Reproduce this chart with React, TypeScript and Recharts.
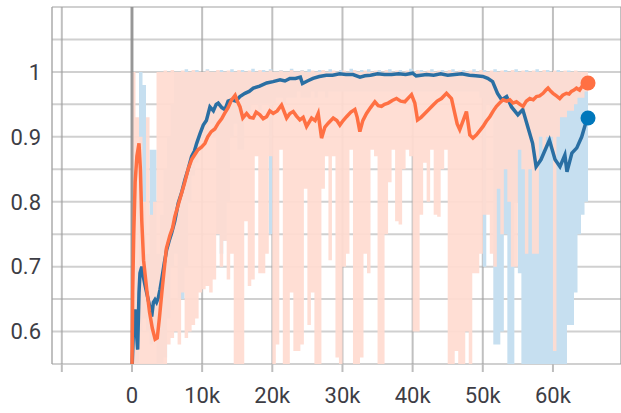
import React from 'react';
import { ComposedChart, Line, Area, XAxis, YAxis, CartesianGrid, ReferenceLine, ReferenceDot } from 'recharts';

const X_TICKS = [-10000, 0, 10000, 20000, 30000, 40000, 50000, 60000];
const X_TICK_LABELS = ['', '0', '10k', '20k', '30k', '40k', '50k', '60k'];
const Y_TICKS = [0.55, 0.6, 0.65, 0.7, 0.75, 0.8, 0.85, 0.9, 0.95, 1.0, 1.05, 1.1];
const Y_TICK_LABELS = ['', '0.6', '', '0.7', '', '0.8', '', '0.9', '', '1', '', ''];

// raw (unsmoothed) signal, summarised per 500-step bin as [low, high]
const RAW_STEPS = [
  0, 500, 1000, 1500, 2000, 2500, 3000, 3500, 4000, 4500,
  5000, 5500, 6000, 6500, 7000, 7500, 8000, 8500, 9000, 9500,
  10000, 10500, 11000, 11500, 12000, 12500, 13000, 13500, 14000, 14500,
  15000, 15500, 16000, 16500, 17000, 17500, 18000, 18500, 19000, 19500,
  20000, 20500, 21000, 21500, 22000, 22500, 23000, 23500, 24000, 24500,
  25000, 25500, 26000, 26500, 27000, 27500, 28000, 28500, 29000, 29500,
  30000, 30500, 31000, 31500, 32000, 32500, 33000, 33500, 34000, 34500,
  35000, 35500, 36000, 36500, 37000, 37500, 38000, 38500, 39000, 39500,
  40000, 40500, 41000, 41500, 42000, 42500, 43000, 43500, 44000, 44500,
  45000, 45500, 46000, 46500, 47000, 47500, 48000, 48500, 49000, 49500,
  50000, 50500, 51000, 51500, 52000, 52500, 53000, 53500, 54000, 54500,
  55000, 55500, 56000, 56500, 57000, 57500, 58000, 58500, 59000, 59500,
  60000, 60500, 61000, 61500, 62000, 62500, 63000, 63500, 64000, 64500,
  65000,
];

const ORANGE_RAW_LO = [
  0.55, 0.55, 0.55, 0.55, 0.55, 0.55, 0.55, 0.55, 0.55, 0.55,
  0.58, 0.59, 0.6, 0.58, 0.66, 0.59, 0.6, 0.61, 0.62, 0.66,
  0.665, 0.67, 0.66, 0.68, 0.75, 0.7, 0.74, 0.68, 0.72, 0.55,
  0.55, 0.55, 0.77, 0.67, 0.68, 0.87, 0.69, 0.69, 0.72, 0.87,
  0.55, 0.58, 0.88, 0.55, 0.55, 0.66, 0.57, 0.57, 0.58, 0.82,
  0.61, 0.66, 0.55, 0.55, 0.82, 0.87, 0.71, 0.87, 0.56, 0.55,
  0.7, 0.72, 0.88, 0.55, 0.55, 0.56, 0.72, 0.69, 0.88, 0.87,
  0.55, 0.55, 0.75, 0.83, 0.88, 0.77, 0.765, 0.85, 0.88, 0.87,
  0.6, 0.6, 0.78, 0.86, 0.8, 0.88, 0.78, 0.777, 0.85, 0.88,
  0.55, 0.55, 0.57, 0.55, 0.55, 0.6, 0.55, 0.69, 0.69, 0.72,
  0.78, 0.78, 0.72, 0.7, 0.82, 0.75, 0.85, 0.8, 0.7, 0.7,
  0.88, 0.85, 0.72, 0.85, 0.72, 0.72, 0.9, 0.88, 0.9, 0.9,
  0.57, 0.9, 0.93, 0.93, 0.94, 0.94, 0.95, 0.96, 0.96, 0.97,
  0.97,
];

const ORANGE_RAW_HI = [
  1.0, 0.93, 0.9, 0.8, 0.93, 0.78, 0.8, 1.0, 1.0, 1.002,
  1.0, 1.003, 1.0, 1.0, 1.002, 1.0, 1.0, 1.003, 1.0, 1.0,
  1.0, 1.002, 1.0, 1.0, 1.003, 1.0, 1.0, 1.002, 1.0, 1.0,
  1.003, 1.0, 1.0, 1.002, 1.0, 1.0, 1.003, 1.0, 1.0, 1.002,
  1.0, 1.0, 1.002, 1.0, 1.0, 1.003, 1.0, 1.0, 1.002, 1.0,
  1.0, 1.002, 1.0, 1.0, 1.003, 1.0, 1.0, 1.002, 1.0, 1.0,
  1.002, 1.0, 1.0, 1.003, 1.0, 1.0, 1.002, 1.0, 1.0, 1.002,
  1.0, 1.0, 1.003, 1.0, 1.0, 1.002, 1.0, 1.0, 1.002, 1.0,
  1.0, 1.003, 1.0, 1.0, 1.002, 1.0, 1.0, 1.002, 1.0, 1.0,
  1.003, 1.0, 1.0, 1.002, 1.0, 1.0, 1.002, 1.0, 1.0, 1.003,
  1.0, 1.0, 1.002, 1.0, 1.0, 1.002, 1.0, 1.0, 1.003, 1.0,
  1.0, 1.002, 1.0, 1.0, 1.002, 1.0, 1.0, 1.003, 1.0, 1.0,
  1.002, 1.0, 1.0, 1.002, 1.0, 1.0, 1.002, 1.0, 1.0, 1.0,
  1.0,
];

const BLUE_RAW_LO = [
  0.55, 0.55, 0.6, 0.62, 0.6, 0.58, 0.6, 0.55, 0.55, 0.56,
  0.62, 0.7, 0.72, 0.65, 0.65, 0.7, 0.8, 0.84, 0.86, 0.88,
  0.9, 0.9, 0.92, 0.9, 0.75, 0.72, 0.74, 0.8, 0.9, 0.92,
  0.88, 0.88, 0.93, 0.94, 0.95, 0.95, 0.94, 0.95, 0.95, 0.75,
  0.95, 0.96, 0.96, 0.95, 0.96, 0.96, 0.96, 0.97, 0.96, 0.96,
  0.96, 0.97, 0.96, 0.97, 0.97, 0.96, 0.97, 0.97, 0.97, 0.97,
  0.97, 0.97, 0.97, 0.97, 0.97, 0.97, 0.97, 0.97, 0.97, 0.97,
  0.97, 0.97, 0.97, 0.97, 0.97, 0.97, 0.97, 0.97, 0.97, 0.97,
  0.97, 0.97, 0.97, 0.97, 0.97, 0.97, 0.97, 0.97, 0.97, 0.97,
  0.97, 0.97, 0.97, 0.97, 0.97, 0.97, 0.97, 0.97, 0.97, 0.96,
  0.7, 0.95, 0.93, 0.58, 0.58, 0.6, 0.75, 0.55, 0.55, 0.8,
  0.69, 0.55, 0.55, 0.55, 0.55, 0.55, 0.55, 0.55, 0.55, 0.55,
  0.55, 0.55, 0.55, 0.55, 0.61, 0.61, 0.66, 0.75, 0.78, 0.8,
  0.8,
];

const BLUE_RAW_HI = [
  0.66, 0.7, 1.0, 0.98, 0.72, 0.88, 0.88, 0.72, 0.78, 0.85,
  0.9, 0.95, 1.0, 1.0, 1.0, 1.004, 1.0, 1.0, 1.003, 1.0,
  1.0, 1.004, 1.0, 1.0, 1.0, 1.003, 1.0, 1.0, 1.004, 1.0,
  1.0, 1.003, 1.0, 1.0, 1.005, 1.0, 1.0, 1.003, 1.0, 1.004,
  1.0, 1.0, 1.003, 1.0, 1.0, 1.005, 1.0, 1.0, 1.003, 1.0,
  1.004, 1.0, 1.0, 1.003, 1.0, 1.0, 1.004, 1.0, 1.0, 1.003,
  1.0, 1.0, 1.005, 1.0, 1.0, 1.003, 1.0, 1.004, 1.0, 1.0,
  1.003, 1.0, 1.0, 1.004, 1.0, 1.0, 1.003, 1.0, 1.0, 1.005,
  1.0, 1.0, 1.003, 1.0, 1.0, 1.004, 1.0, 1.0, 1.003, 1.0,
  1.0, 1.004, 1.0, 1.0, 1.003, 1.0, 1.0, 1.004, 1.0, 1.0,
  1.003, 1.0, 1.0, 1.004, 1.0, 1.0, 1.003, 1.0, 1.0, 1.004,
  1.0, 1.0, 1.003, 1.0, 1.0, 1.004, 1.0, 1.0, 1.003, 1.0,
  1.0, 1.003, 1.0, 1.0, 1.002, 1.0, 1.0, 1.0, 0.99, 0.99,
  0.99,
];

// smoothed curves
const BLUE_STEPS = [
  0, 200, 430, 620, 810, 1000, 1140, 1400, 1610, 1850, 2090, 2500, 2810, 3050, 3280, 3500, 3750, 4000, 4230, 4600,
  4940, 5300, 5650, 6100, 6600, 7100, 7550, 8000, 8500, 8900, 9220, 9700, 10160, 10600, 11110, 11600, 12000, 12290, 12800, 13250,
  13700, 14200, 14800, 15380, 16100, 16700, 17300, 18200, 19200, 20100, 21100, 21800, 22500, 23300, 24000, 24300, 25000, 25800, 26700, 27700,
  28600, 29600, 30500, 31500, 32500, 33200, 34000, 35000, 36000, 37000, 38000, 39000, 40000, 40500, 41200, 42000, 43000, 44000, 45000, 46000,
  47000, 48100, 49000, 50000, 50700, 51400, 52100, 52700, 53400, 54100, 55000, 55700, 56400, 57100, 57600, 58300, 59100, 59500, 60300, 61000,
  61700, 62000, 62700, 63400, 64100, 64800, 65000,
];
const BLUE_VALUES = [
  0.54, 0.6, 0.634, 0.6, 0.572, 0.66, 0.69, 0.7, 0.685, 0.672, 0.66, 0.64, 0.623, 0.645, 0.649, 0.645, 0.652, 0.665, 0.68, 0.705,
  0.726, 0.74, 0.752, 0.77, 0.798, 0.815, 0.834, 0.85, 0.87, 0.878, 0.89, 0.905, 0.918, 0.925, 0.946, 0.94, 0.95, 0.952, 0.945, 0.942,
  0.955, 0.957, 0.955, 0.962, 0.967, 0.97, 0.975, 0.978, 0.983, 0.985, 0.988, 0.986, 0.99, 0.99, 0.992, 0.982, 0.986, 0.99, 0.993, 0.995,
  0.995, 0.997, 0.996, 0.996, 0.992, 0.994, 0.995, 0.997, 0.996, 0.996, 0.997, 0.996, 0.998, 0.994, 0.995, 0.996, 0.995, 0.997, 0.995, 0.996,
  0.997, 0.995, 0.994, 0.993, 0.99, 0.985, 0.967, 0.957, 0.962, 0.946, 0.934, 0.942, 0.916, 0.89, 0.854, 0.865, 0.885, 0.895, 0.865, 0.854,
  0.872, 0.846, 0.875, 0.883, 0.9, 0.926, 0.929,
];

const ORANGE_STEPS = [
  0, 100, 250, 450, 700, 1000, 1200, 1400, 1650, 2100, 2500, 2900, 3300, 3600, 3900, 4300, 4900, 5400, 5800, 6100,
  6800, 7500, 8000, 8500, 9400, 9900, 10400, 10800, 11300, 11800, 12300, 12800, 13200, 13700, 14200, 14700, 15000, 15400, 15800, 16340,
  16800, 17280, 17700, 18230, 18700, 19190, 19650, 20130, 20700, 21320, 22040, 22500, 22980, 23450, 23930, 24400, 24880, 25600, 26100, 26540,
  27020, 27500, 27970, 28680, 29200, 29630, 30100, 30580, 31200, 31770, 32100, 32480, 32900, 33430, 34000, 34620, 35100, 35570, 36000, 36510,
  37100, 37700, 38300, 38890, 39400, 39840, 40310, 40700, 41200, 41740, 42300, 42930, 43500, 44110, 44830, 45540, 46010, 46350, 46720, 47200,
  47670, 48150, 48600, 49100, 49600, 50040, 50500, 51000, 51500, 51950, 52400, 52890, 53400, 53850, 54300, 54800, 55300, 55740, 56200, 56700,
  57200, 57650, 58100, 58590, 59000, 59300, 59700, 60010, 60500, 60970, 61400, 61920, 62300, 62630, 63000, 63350, 63800, 64290, 64700, 65000,
];
const ORANGE_VALUES = [
  0.54, 0.66, 0.75, 0.83, 0.87, 0.89, 0.85, 0.77, 0.71, 0.665, 0.63, 0.605, 0.588, 0.59, 0.62, 0.665, 0.728, 0.748, 0.76, 0.777,
  0.803, 0.829, 0.85, 0.865, 0.88, 0.884, 0.89, 0.9, 0.908, 0.912, 0.921, 0.928, 0.936, 0.945, 0.957, 0.964, 0.955, 0.946, 0.929, 0.936,
  0.93, 0.929, 0.938, 0.934, 0.928, 0.931, 0.94, 0.936, 0.94, 0.949, 0.929, 0.936, 0.939, 0.932, 0.926, 0.93, 0.916, 0.929, 0.925, 0.936,
  0.898, 0.915, 0.921, 0.929, 0.925, 0.918, 0.925, 0.931, 0.938, 0.942, 0.93, 0.908, 0.925, 0.936, 0.945, 0.954, 0.948, 0.947, 0.95, 0.952,
  0.956, 0.959, 0.955, 0.954, 0.96, 0.965, 0.952, 0.926, 0.93, 0.936, 0.942, 0.949, 0.955, 0.959, 0.967, 0.959, 0.936, 0.92, 0.911, 0.925,
  0.939, 0.903, 0.898, 0.903, 0.91, 0.916, 0.924, 0.931, 0.94, 0.947, 0.952, 0.957, 0.955, 0.957, 0.952, 0.954, 0.95, 0.947, 0.955, 0.959,
  0.957, 0.962, 0.963, 0.967, 0.972, 0.975, 0.97, 0.967, 0.963, 0.959, 0.964, 0.967, 0.966, 0.97, 0.972, 0.975, 0.972, 0.98, 0.982, 0.983,
];

const ORANGE = '#ff7043';
const BLUE = '#0077bb';
const BLUE_LINE = '#2a6fa3';
const ORANGE_RAW_FILL = '#ffdcd1';
const BLUE_RAW_FILL = '#c6dff0';

const orangeRaw = RAW_STEPS.map((s, i) => ({ step: s, range: [ORANGE_RAW_LO[i], ORANGE_RAW_HI[i]] }));
const blueRaw = RAW_STEPS.map((s, i) => ({ step: s, range: [BLUE_RAW_LO[i], BLUE_RAW_HI[i]] }));
const blueSmooth = BLUE_STEPS.map((s, i) => ({ step: s, v: BLUE_VALUES[i] }));
const orangeSmooth = ORANGE_STEPS.map((s, i) => ({ step: s, v: ORANGE_VALUES[i] }));

const tickStyle = { fontFamily: 'Roboto, sans-serif', fontSize: 22, fill: '#3d3d45' };

export default function App() {
  const bLast = blueSmooth[blueSmooth.length - 1];
  const oLast = orangeSmooth[orangeSmooth.length - 1];
  return (
    <div style={{ position: 'absolute', left: 0, top: 0, width: 621, height: 413, background: '#fff' }}>
      <ComposedChart width={621} height={413} margin={{ top: 7, right: 0, bottom: 0, left: 0 }}>
        <XAxis
          type="number"
          dataKey="step"
          domain={[-11400, 69700]}
          allowDataOverflow
          ticks={X_TICKS}
          interval={0}
          tickFormatter={(v: number) => X_TICK_LABELS[X_TICKS.indexOf(v)] ?? ''}
          axisLine={false}
          tickLine={{ stroke: '#bdbdbd', strokeWidth: 2 }}
          tickSize={8}
          tickMargin={15}
          height={49}
          tick={tickStyle}
        />
        <YAxis
          type="number"
          domain={[0.55, 1.1]}
          allowDataOverflow
          ticks={Y_TICKS}
          interval={0}
          tickFormatter={(v: number) => Y_TICK_LABELS[Y_TICKS.findIndex((t) => Math.abs(t - v) < 1e-6)] ?? ''}
          axisLine={false}
          tickLine={false}
          tickSize={0}
          tickMargin={11}
          width={52}
          tick={tickStyle}
        />
        <Area
          data={blueRaw}
          dataKey="range"
          type="stepAfter"
          stroke="none"
          fill={BLUE_RAW_FILL}
          fillOpacity={1}
          isAnimationActive={false}
        />
        <Area
          data={orangeRaw}
          dataKey="range"
          type="stepAfter"
          stroke="none"
          fill={ORANGE_RAW_FILL}
          fillOpacity={0.93}
          isAnimationActive={false}
        />
        <CartesianGrid horizontal={true} vertical={false} stroke="#bcbcbc" strokeOpacity={0.7} strokeWidth={2} />
        <CartesianGrid horizontal={false} vertical={true} stroke="#9e9e9e" strokeOpacity={0.65} strokeWidth={2} />
        <ReferenceLine x={0} stroke="#8f8f8f" strokeOpacity={0.85} strokeWidth={3} />
        <Line
          data={blueSmooth}
          dataKey="v"
          type="linear"
          stroke={BLUE_LINE}
          strokeWidth={3.5}
          dot={false}
          isAnimationActive={false}
        />
        <Line
          data={orangeSmooth}
          dataKey="v"
          type="linear"
          stroke={ORANGE}
          strokeWidth={3.5}
          dot={false}
          isAnimationActive={false}
        />
        <ReferenceDot x={bLast.step} y={bLast.v} r={7.5} fill={BLUE} stroke="none" />
        <ReferenceDot x={oLast.step} y={oLast.v} r={7.5} fill={ORANGE} stroke="none" />
      </ComposedChart>
    </div>
  );
}
